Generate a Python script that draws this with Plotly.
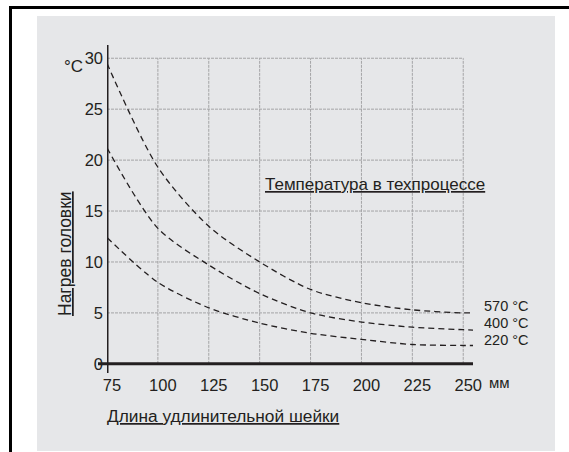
import plotly.graph_objects as go

# ---- data ----
length_mm = [75, 100, 125, 150, 175, 200, 225, 250, 255]
heat_570 = [29.5, 19.3, 13.5, 10.0, 7.3, 6.0, 5.3, 5.0, 5.0]
heat_400 = [21.2, 13.3, 9.7, 6.9, 5.0, 4.1, 3.6, 3.35, 3.3]
heat_220 = [12.4, 8.0, 5.5, 4.0, 3.0, 2.4, 1.9, 1.8, 1.8]
series_labels = ["570 °C", "400 °C", "220 °C"]
label_y = [5.65, 4.0, 2.35]

x_ticks = [75, 100, 125, 150, 175, 200, 225, 250]
y_ticks = [0, 5, 10, 15, 20, 25, 30]

x_title = "Длина удлинительной шейки"
y_title = "Нагрев головки"
legend_title = "Температура в техпроцессе"
x_unit = "мм"
y_unit = "°C"

# ---- layout geometry (pixels) ----
W, H = 569, 452
L, R, T, B = 107, 473, 45, 373
FONT = "Liberation Sans, Arial, sans-serif"
INK = "#231f20"


def px_x(p):
    return (p - L) / (R - L)


def px_y(p):
    return (B - p) / (B - T)


fig = go.Figure()

for ys in (heat_570, heat_400, heat_220):
    fig.add_trace(go.Scatter(
        x=length_mm, y=ys, mode="lines",
        line=dict(color=INK, width=1.3, dash="6px,4px", shape="spline", smoothing=0.8),
        showlegend=False, hoverinfo="skip"))

shapes = []
# grey panel and black frame
shapes.append(dict(type="rect", xref="paper", yref="paper", layer="below",
                   x0=px_x(37), x1=px_x(555), y0=px_y(451), y1=px_y(16),
                   fillcolor="#e6e7e9", line=dict(width=0)))
shapes.append(dict(type="line", xref="paper", yref="paper",
                   x0=px_x(9), x1=px_x(569), y0=px_y(7.5), y1=px_y(7.5),
                   line=dict(color="#000", width=3)))
shapes.append(dict(type="line", xref="paper", yref="paper",
                   x0=px_x(10.5), x1=px_x(10.5), y0=px_y(6), y1=px_y(452),
                   line=dict(color="#000", width=3)))
# grid
for v in x_ticks[1:]:
    shapes.append(dict(type="line", xref="x", yref="y", layer="below",
                       x0=v, x1=v, y0=y_ticks[0], y1=y_ticks[-1],
                       line=dict(color="#a4a4a6", width=1, dash="3px,1px")))
for h in y_ticks[1:]:
    shapes.append(dict(type="line", xref="x", yref="y", layer="below",
                       x0=x_ticks[0], x1=x_ticks[-1], y0=h, y1=h,
                       line=dict(color="#a4a4a6", width=1, dash="3px,1px")))
# axis lines
shapes.append(dict(type="line", xref="paper", yref="y",
                   x0=px_x(98), x1=1, y0=0, y1=0,
                   line=dict(color=INK, width=3)))
shapes.append(dict(type="line", xref="x", yref="paper",
                   x0=75, x1=75, y0=0, y1=1,
                   line=dict(color=INK, width=3)))

annotations = []
for txt, yy in zip(series_labels, label_y):
    annotations.append(dict(x=px_x(482), xref="paper", y=yy, yref="y", text=txt,
                            xanchor="left", yanchor="middle", showarrow=False,
                            font=dict(family=FONT, size=14.5, color=INK)))
annotations.append(dict(x=px_x(487), xref="paper", y=px_y(382), yref="paper", text=x_unit,
                        xanchor="left", yanchor="middle", showarrow=False,
                        font=dict(family=FONT, size=15, color=INK)))
annotations.append(dict(x=px_x(85), xref="paper", y=px_y(67), yref="paper", text=y_unit,
                        xanchor="right", yanchor="middle", showarrow=False,
                        font=dict(family=FONT, size=17, color=INK)))
annotations.append(dict(x=px_x(65), xref="paper", y=px_y(254), yref="paper",
                        text="<u>" + y_title + "</u>", textangle=-90,
                        xanchor="center", yanchor="middle", showarrow=False,
                        font=dict(family=FONT, size=17.5, color=INK)))
annotations.append(dict(x=px_x(105), xref="paper", y=px_y(416), yref="paper",
                        text="<u>" + x_title + "</u>",
                        xanchor="left", yanchor="middle", showarrow=False,
                        font=dict(family=FONT, size=17.3, color=INK)))
annotations.append(dict(x=px_x(263), xref="paper", y=px_y(184), yref="paper",
                        text="<u>" + legend_title + "</u>",
                        xanchor="left", yanchor="middle", showarrow=False,
                        font=dict(family=FONT, size=17, color=INK)))

fig.update_layout(
    width=W, height=H,
    margin=dict(l=L, r=W - R, t=T, b=H - B, pad=0),
    paper_bgcolor="white", plot_bgcolor="rgba(0,0,0,0)",
    shapes=shapes, annotations=annotations, showlegend=False,
    font=dict(family=FONT, size=16, color=INK),
)
fig.update_xaxes(range=[75, 254.8], tickvals=x_ticks, ticktext=[str(v) for v in x_ticks],
                 showgrid=False, zeroline=False, showline=False, ticks="",
                 ticklabelshift=5, ticklabelstandoff=0,
                 tickfont=dict(family=FONT, size=16.5, color=INK))
fig.update_yaxes(range=[-0.9, 31.3], tickvals=y_ticks, ticktext=[str(v) for v in y_ticks],
                 showgrid=False, zeroline=False, showline=False, ticks="",
                 ticklabelstandoff=3,
                 tickfont=dict(family=FONT, size=16.5, color=INK))

fig.write_html(
    "out.html",
    config={"displayModeBar": False},
    post_script="document.body.style.margin='0';document.body.style.overflow='hidden';",
)
